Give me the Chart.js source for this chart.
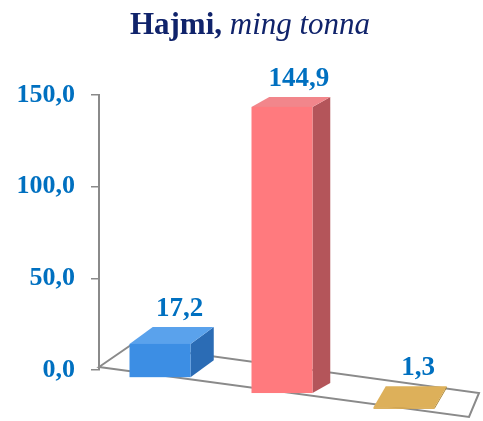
<!DOCTYPE html>
<html><head><meta charset="utf-8">
<script src="https://cdn.jsdelivr.net/npm/chart.js@4/dist/chart.umd.min.js"></script>
<style>
html,body{margin:0;padding:0;background:#fff;}
#wrap{position:relative;width:483px;height:421px;}
#title{position:absolute;left:0;top:6px;width:500px;text-align:center;font-family:"Liberation Serif";font-size:31px;color:#10236B;white-space:nowrap;}
canvas{position:absolute;left:0;top:0;}
</style></head><body>
<div id="wrap"><canvas id="c" width="483" height="421"></canvas><div id="title"><b>Hajmi,</b> <i>ming tonna</i></div></div>
<script>
const categories = [' ', ' ', ' '];
const values = [17.2, 144.9, 1.3];
const yTicks = [0, 50, 100, 150];
const frontColors = ['#3C8EE4', '#FF7A7E', '#D9A94E'];
const sideColors = ['#2B6CB5', '#B4555A', '#A8822F'];
const topColors = ['#5AA2EC', '#F2868B', '#DDB05A'];

const fmt = v => v.toFixed(1).replace('.', ',');
const labelColor = '#0070C0';
const axisGray = '#8a8a8a';

const bars3d = {
  id: 'bars3d',
  beforeDatasetsDraw(chart) {
    const {ctx, chartArea} = chart;
    const y0 = chart.scales.y.getPixelForValue(0);
    const L = chartArea.left;
    ctx.save();
    ctx.beginPath();
    ctx.moveTo(L, y0 - 3);
    ctx.lineTo(L + 370, y0 + 47);
    ctx.lineTo(L + 380, y0 + 23);
    ctx.lineTo(L + 32, y0 - 25);
    ctx.closePath();
    ctx.fillStyle = '#fff';
    ctx.fill();
    ctx.strokeStyle = axisGray;
    ctx.lineWidth = 2;
    ctx.stroke();
    ctx.restore();
  },
  afterDatasetsDraw(chart) {
    const {ctx, chartArea} = chart;
    const L = chartArea.left;
    const meta = chart.getDatasetMeta(0);
    ctx.save();
    meta.data.forEach((bar, i) => {
      const cx = bar.x, w = bar.width;
      const h = (bar.base - bar.y) * 1.08;
      const bottom = bar.base + 0.13 * (cx - L);
      const top = bottom - h;
      const x0 = cx - w / 2, x1 = cx + w / 2;
      const dx = 26 - 0.045 * (cx - L);
      const t = Math.max(0, Math.min(1, (top - 110) / 296));
      const dy = -(10 + 11 * t * t);
      // side
      ctx.beginPath();
      ctx.moveTo(x1, bottom);
      ctx.lineTo(x1 + dx, bottom + dy);
      ctx.lineTo(x1 + dx, top + dy);
      ctx.lineTo(x1, top);
      ctx.closePath();
      ctx.fillStyle = sideColors[i];
      ctx.fill();
      // top
      ctx.beginPath();
      ctx.moveTo(x0, top);
      ctx.lineTo(x1, top);
      ctx.lineTo(x1 + dx, top + dy);
      ctx.lineTo(x0 + dx, top + dy);
      ctx.closePath();
      ctx.fillStyle = topColors[i];
      ctx.fill();
      // front
      ctx.fillStyle = frontColors[i];
      ctx.fillRect(x0, top, w, h);
      // label
      ctx.fillStyle = labelColor;
      ctx.font = 'bold 27px "Liberation Serif"';
      ctx.textAlign = 'center';
      ctx.textBaseline = 'middle';
      ctx.fillText(fmt(values[i]), cx + dx / 2 + 8, top + dy - 18);
    });
    ctx.restore();
  }
};

new Chart(document.getElementById('c'), {
  type: 'bar',
  data: {
    labels: categories,
    datasets: [{
      data: values,
      backgroundColor: 'rgba(0,0,0,0)',
      borderWidth: 0,
      categoryPercentage: 1,
      barPercentage: 0.5
    }]
  },
  options: {
    responsive: false,
    animation: false,
    layout: { padding: { top: 95, bottom: 51, left: 0, right: 18 } },
    plugins: { legend: { display: false }, tooltip: { enabled: false }, title: { display: false } },
    scales: {
      x: { display: false },
      y: {
        min: yTicks[0],
        max: yTicks[yTicks.length - 1],
        afterBuildTicks(scale) { scale.ticks = yTicks.map(v => ({ value: v })); },
        afterFit(scale) { scale.width = 99; },
        ticks: {
          callback: v => fmt(v),
          color: labelColor,
          font: { family: 'Liberation Serif', size: 26, weight: 'bold' },
          padding: 16
        },
        grid: { drawOnChartArea: false, drawTicks: true, tickLength: 8, color: axisGray, lineWidth: 1.5 },
        border: { color: axisGray, width: 2 }
      }
    }
  },
  plugins: [bars3d]
});
</script>
</body></html>
